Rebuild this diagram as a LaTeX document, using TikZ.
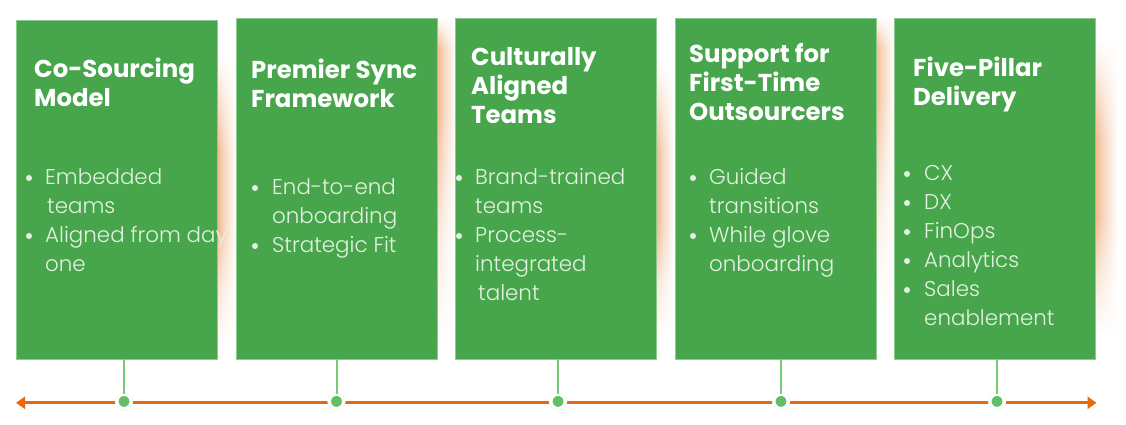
\documentclass[tikz,border=0pt]{standalone}
\usepackage{fontspec}
\setmainfont{Poppins}
\newfontfamily\lightf{Poppins Light}
\newfontfamily\boldf{Poppins Bold}
\usetikzlibrary{arrows.meta,fadings}
\definecolor{boxg}{HTML}{47A64B}
\definecolor{edgeg}{HTML}{8CCB8E}
\definecolor{stemg}{HTML}{74CC78}
\definecolor{dotg}{HTML}{62BF66}
\definecolor{ringg}{HTML}{E4F3E4}
\definecolor{axiso}{HTML}{E8690B}
\definecolor{glowo}{HTML}{F2BB92}
\definecolor{glowm}{HTML}{F8D8C0}
\definecolor{bodyt}{HTML}{E4F2E2}
\pgfdeclarehorizontalshading{glowside}{100bp}{color(0bp)=(glowo); color(25bp)=(glowo); color(42bp)=(glowm); color(75bp)=(white); color(100bp)=(white)}
\pgfdeclareverticalshading{fadeAshade}{100bp}{color(0bp)=(black); color(25bp)=(black); color(42bp)=(black!70!white); color(61bp)=(white); color(70bp)=(white); color(75bp)=(black); color(100bp)=(black)}
\pgfdeclareverticalshading{fadeBshade}{100bp}{color(0bp)=(black); color(25bp)=(black); color(35bp)=(black!60!white); color(45bp)=(white); color(58bp)=(white); color(75bp)=(black); color(100bp)=(black)}
\pgfdeclarefading{fadeA}{\pgfuseshading{fadeAshade}}
\pgfdeclarefading{fadeB}{\pgfuseshading{fadeBshade}}
\tikzset{
 card/.style={fill=boxg,draw=edgeg,line width=.5pt,minimum width=201pt,inner sep=0pt,anchor=north west},
 ttl/.style={font=\boldf\fontsize{24.4}{29}\selectfont,text=white,anchor=base west,inner sep=0pt,align=left},
 bodytxt/.style={font=\lightf\fontsize{21.4}{29}\selectfont,text=bodyt,anchor=base west,inner sep=0pt,align=left},
 bul/.style={circle,fill=bodyt,minimum size=6pt,inner sep=0pt},
 stem/.style={draw=stemg,line width=2pt},
 axisline/.style={draw=axiso,line width=3pt,{Triangle[length=9pt,width=12pt]}-{Triangle[length=9pt,width=12pt]}},
 tick/.style={circle,fill=dotg,draw=ringg,line width=.4pt,double=white,double distance=2.8pt,minimum size=14.6pt,inner sep=0pt},
 glowA/.style={shading=glowside,path fading=fadeA},
 glowB/.style={shading=glowside,path fading=fadeB},
}
\begin{document}
\begin{tikzpicture}[x=1pt,y=-1pt]
\useasboundingbox (0,0) rectangle (1126,425);
\fill[white] (0,0) rectangle (1126,425);
% glows
\shade[glowB] (218,55) rectangle (236,345);
\shade[glowA] (438,18) rectangle (456,345);
\shade[glowB] (657,60) rectangle (674,335);
\shade[glowA] (876,18) rectangle (894,310);
\shade[glowB] (1096,40) rectangle (1118,335);
% cards
\node[card,minimum height=338.5pt] (c1) at (16,20) {};
\node[card,minimum height=340pt] (c2) at (236,18.5) {};
\node[card,minimum height=340pt] (c3) at (455.2,18.5) {};
\node[card,minimum height=340pt] (c4) at (674.5,18.5) {};
\node[card,minimum height=340pt] (c5) at (894,18.5) {};
% axis
\coordinate (al) at (16,402.8);
\coordinate (ar) at (1096.5,402.8);
\draw[axisline] (al) -- (ar);
\node[tick] (t1) at (124,401.4) {};
\node[tick] (t2) at (336.5,401.4) {};
\node[tick] (t3) at (558,401.4) {};
\node[tick] (t4) at (781,401.4) {};
\node[tick] (t5) at (997,401.4) {};
\draw[stem] (t1 |- c1.south) -- (t1.north);
\draw[stem] (t2 |- c2.south) -- (t2.north);
\draw[stem] (t3 |- c3.south) -- (t3.north);
\draw[stem] (t4 |- c4.south) -- (t4.north);
\draw[stem] (t5 |- c5.south) -- (t5.north);
% titles
\node[ttl] (h1) at (34,106.3) {Co-Sourcing\\Model};
\node[ttl] (h2) at (251,108) {Premier Sync\\Framework};
\node[ttl] (h3) at (471,123.4) {Culturally\\Aligned\\Teams};
\node[ttl] (h4) at (689,120.6) {Support for\\First-Time\\Outsourcers};
\node[ttl] (h5) at (913,106) {Five-Pillar\\Delivery};
% card 1
\node[bul] (b11) at (29,178) {};
\node[bodytxt] (l11) at (45,184) {Embedded};
\node[bodytxt] (l12) at (47,213) {teams};
\node[bul] (b12) at (29,236) {};
\node[bodytxt] (l13) at (45,242) {Aligned from day};
\node[bodytxt] (l14) at (45,271) {one};
% card 2
\node[bul] (b21) at (255,188) {};
\node[bodytxt] (l21) at (272,194) {End-to-end};
\node[bodytxt] (l22) at (272,223) {onboarding};
\node[bul] (b22) at (255,246) {};
\node[bodytxt] (l23) at (272,252) {Strategic Fit};
% card 3
\node[bul] (b31) at (459,178) {};
\node[bodytxt] (l31) at (475,184) {Brand-trained};
\node[bodytxt] (l32) at (475,213) {teams};
\node[bul] (b32) at (459,236) {};
\node[bodytxt] (l33) at (475,242) {Process-};
\node[bodytxt] (l34) at (475,271) {integrated};
\node[bodytxt] (l35) at (478,300) {talent};
% card 4
\node[bul] (b41) at (693,178) {};
\node[bodytxt] (l41) at (709,184) {Guided};
\node[bodytxt] (l42) at (709,213) {transitions};
\node[bul] (b42) at (693,236) {};
\node[bodytxt] (l43) at (709,242) {While glove};
\node[bodytxt] (l44) at (709,271) {onboarding};
% card 5
\node[bul] (b51) at (907,174) {};
\node[bodytxt] (l51) at (924,180) {CX};
\node[bul] (b52) at (907,203) {};
\node[bodytxt] (l52) at (924,209) {DX};
\node[bul] (b53) at (907,232) {};
\node[bodytxt] (l53) at (924,238) {FinOps};
\node[bul] (b54) at (907,261) {};
\node[bodytxt] (l54) at (924,267) {Analytics};
\node[bul] (b55) at (907,290) {};
\node[bodytxt] (l55) at (924,296) {Sales};
\node[bodytxt] (l56) at (924,325) {enablement};
\end{tikzpicture}
\end{document}
